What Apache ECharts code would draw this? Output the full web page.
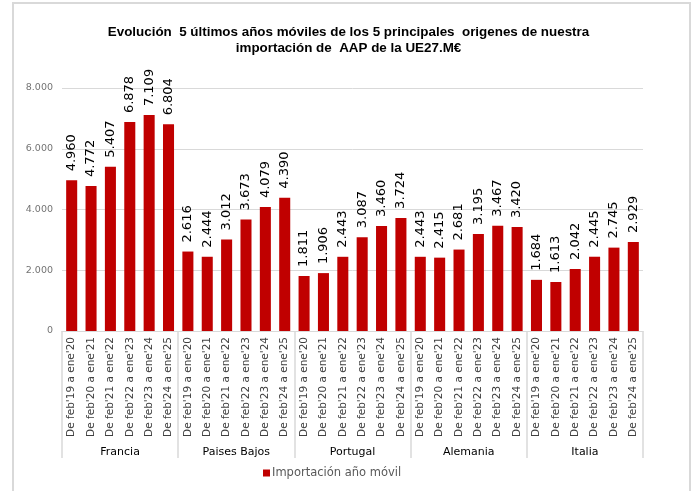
<!DOCTYPE html>
<html>
<head>
<meta charset="utf-8">
<script src="https://cdn.jsdelivr.net/npm/echarts@6/dist/echarts.min.js"></script>
<style>html,body{margin:0;padding:0;background:#fff;}#c{width:697px;height:491px;}</style>
</head>
<body>
<div id="c"></div>
<script>
const countries = ['Francia', 'Paises Bajos', 'Portugal', 'Alemania', 'Italia'];
const periods = ["De feb'19 a ene'20", "De feb'20 a ene'21", "De feb'21 a ene'22", "De feb'22 a ene'23", "De feb'23 a ene'24", "De feb'24 a ene'25"];
const francia = [4960, 4772, 5407, 6878, 7109, 6804];
const paisesBajos = [2616, 2444, 3012, 3673, 4079, 4390];
const portugal = [1811, 1906, 2443, 3087, 3460, 3724];
const alemania = [2443, 2415, 2681, 3195, 3467, 3420];
const italia = [1684, 1613, 2042, 2445, 2745, 2929];
const seriesName = 'Importación año móvil';
const titleText = 'Evolución  5 últimos años móviles de los 5 principales  origenes de nuestra\nimportación de  AAP de la UE27.M€';

const groups = [francia, paisesBajos, portugal, alemania, italia];
const cats = [];
const vals = [];
groups.forEach(g => { periods.forEach((p, i) => { cats.push(p); vals.push(g[i]); }); });

function fmt(v) { return String(v).replace(/\B(?=(\d{3})+(?!\d))/g, '.'); }

const chart = echarts.init(document.getElementById('c'));
chart.setOption({
  animation: false,
  backgroundColor: '#fff',
  title: {
    text: titleText,
    left: 'center',
    top: 20,
    textStyle: { fontFamily: 'Liberation Sans, sans-serif', fontWeight: 'bold', fontSize: 13.4, lineHeight: 15.5, color: '#000' }
  },
  graphic: [{
    type: 'rect', shape: { x: 13, y: 3, width: 677, height: 500 },
    style: { fill: 'none', stroke: '#d9d9d9', lineWidth: 2 }, silent: true
  }],
  legend: {
    bottom: 7, left: 258,
    icon: 'rect', itemWidth: 7, itemHeight: 7,
    textStyle: { fontFamily: 'DejaVu Sans', fontSize: 11.5, color: '#595959', padding: [0, 0, 0, -3] },
    data: [seriesName]
  },
  grid: { left: 62, right: 54, top: 88, bottom: 160 },
  xAxis: [{
    type: 'category', data: cats, position: 'bottom',
    axisLine: { show: true, lineStyle: { color: '#d9d9d9', width: 1 } },
    axisTick: { show: false },
    axisLabel: { interval: 0, rotate: 90, margin: 6, fontFamily: 'DejaVu Sans', fontSize: 10.5, color: '#404040' }
  }, {
    type: 'category', data: countries, position: 'bottom',
    axisLine: { show: false },
    axisTick: { show: true, length: 127, lineStyle: { color: '#d9d9d9', width: 1.5 } },
    axisLabel: { margin: 116, fontFamily: 'DejaVu Sans', fontSize: 11, color: '#000' }
  }],
  yAxis: {
    type: 'value', min: 0, max: 8000, interval: 2000,
    axisLine: { show: false }, axisTick: { show: false },
    splitLine: { lineStyle: { color: '#d9d9d9', width: 1 } },
    axisLabel: { formatter: fmt, fontFamily: 'DejaVu Sans', fontSize: 9.5, color: '#737373', margin: 9 }
  },
  series: [{
    name: seriesName, type: 'bar', xAxisIndex: 0, data: vals,
    barWidth: '57%',
    itemStyle: { color: '#C00000' },
    label: {
      show: true, position: 'top', rotate: 90, align: 'left', verticalAlign: 'middle', distance: 9,
      formatter: p => fmt(p.value), fontFamily: 'DejaVu Sans', fontSize: 13, color: '#000'
    }
  }]
});
</script>
</body>
</html>
